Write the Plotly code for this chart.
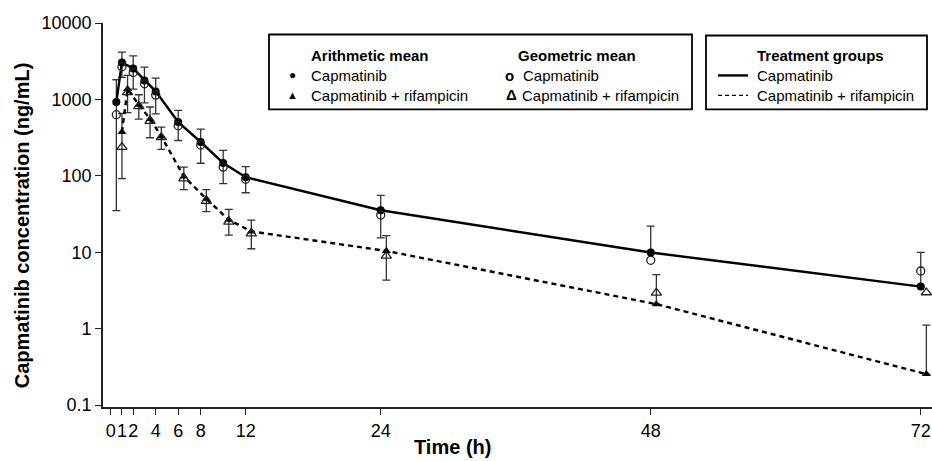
import plotly.graph_objects as go
import numpy as np

# ---------------- data ----------------
time_h = [0.5, 1, 2, 3, 4, 6, 8, 10, 12, 24, 48, 72]
rif_offset_h = 0.5  # horizontal dodge used for the rifampicin group

cap_arith_mean = [922, 3050, 2540, 1772, 1273, 505, 277, 147, 96, 35.4, 9.9, 3.55]
cap_arith_sd = [887, 1108, 1180, 870, 625, 215, 131, 68, 36, 20, 12, 6.4]
cap_geo_mean = [631, 2675, 2254, 1603, 1138, 453, 253, 130, 90, 30.7, 7.83, 5.68]

rif_arith_mean = [374, 1365, 851, 555, 328, 98, 50, 26.5, 18.7, 10.4, 2.09, 0.254]
rif_arith_sd = [282, 695, 300, 240, 106, 32, 16, 9.8, 7.6, 6.1, 3.0, 0.86]
rif_geo_mean = [238, 1236, 809, 521, 318, 91.9, 46.5, 24.9, 17.5, 8.96, 2.94, 2.97]

x_ticks = [0, 1, 2, 4, 6, 8, 12, 24, 48, 72]
y_ticks = [0.1, 1, 10, 100, 1000, 10000]
y_tick_text = ["0.1", "1", "10", "100", "1000", "10000"]

FONT = "Arial, Liberation Sans, sans-serif"
NARROW = "Liberation Sans Narrow, Arial Narrow, Arial, Liberation Sans, sans-serif"

# ---------------- figure ----------------
t_cap = np.array(time_h, dtype=float)
t_rif = t_cap + rif_offset_h


def lower(mean, sd):
    m = np.array(mean, float)
    s = np.array(sd, float)
    return np.where(m - s > 0, s, 0.0)


fig = go.Figure()

err_style = dict(type="data", symmetric=False, thickness=1.3, width=4, color="#333333")

fig.add_trace(go.Scatter(
    x=t_cap, y=cap_arith_mean, mode="lines+markers",
    line=dict(color="black", width=2.4),
    marker=dict(symbol="circle", size=8, color="black"),
    error_y=dict(array=cap_arith_sd, arrayminus=lower(cap_arith_mean, cap_arith_sd), **err_style),
    showlegend=False, cliponaxis=False))

fig.add_trace(go.Scatter(
    x=t_rif, y=rif_arith_mean, mode="lines+markers",
    line=dict(color="black", width=2.4, dash="5px,4px"),
    marker=dict(symbol="triangle-up", size=8, color="black"),
    error_y=dict(array=rif_arith_sd, arrayminus=lower(rif_arith_mean, rif_arith_sd), **err_style),
    showlegend=False, cliponaxis=False))

fig.add_trace(go.Scatter(
    x=t_cap, y=cap_geo_mean, mode="markers",
    marker=dict(symbol="circle-open", size=8, color="#222222", line=dict(width=1.3)),
    showlegend=False, cliponaxis=False))

fig.add_trace(go.Scatter(
    x=t_rif, y=rif_geo_mean, mode="markers",
    marker=dict(symbol="triangle-up-open", size=9, color="#222222", line=dict(width=1.3)),
    showlegend=False, cliponaxis=False))

# ---------------- layout in window pixels ----------------
FW, FH = 932, 461
L, R, T, B = 103, 932, 22.5, 407
W, H = R - L, B - T


def px(x):
    return (x - L) / W


def py(y):
    return (B - y) / H


shapes = []
for x0, x1, y0, y1 in [(269, 692, 34, 109), (706, 927, 35, 109)]:
    shapes.append(dict(type="rect", xref="paper", yref="paper",
                       x0=px(x0), x1=px(x1), y0=py(y1), y1=py(y0),
                       line=dict(color="black", width=1.8)))
shapes.append(dict(type="line", xref="paper", yref="paper", x0=px(718), x1=px(748),
                   y0=py(75), y1=py(75), line=dict(color="black", width=2.4)))
shapes.append(dict(type="line", xref="paper", yref="paper", x0=px(718), x1=px(748),
                   y0=py(95), y1=py(95), line=dict(color="black", width=1.3, dash="4px,3px")))

ann = []


def text(x, y, s, size=15, anchor="left"):
    ann.append(dict(xref="paper", yref="paper", x=px(x), y=py(y), text=s,
                    showarrow=False, xanchor=anchor, yanchor="middle",
                    font=dict(family=FONT, size=size, color="black")))


text(309, 55, "<b>Arithmetic mean</b>")
text(292, 75, "●", size=12, anchor="center")
text(309, 75, "Capmatinib")
text(292, 95, "▲", size=11, anchor="center")
text(309, 95, "Capmatinib + rifampicin")

text(516, 55, "<b>Geometric mean</b>")
text(509, 75, "<b>o</b>", size=15, anchor="center")
text(521, 75, "Capmatinib")
text(511, 94, "<b>Δ</b>", size=15, anchor="center")
text(520, 95, "Capmatinib + rifampicin")

text(755, 55, "<b>Treatment groups</b>")
text(755, 75, "Capmatinib")
text(755, 95, "Capmatinib + rifampicin")

# axis titles
ann.append(dict(xref="paper", yref="paper", x=px(22), y=py(447), text="<b>Time (h)</b>",
                showarrow=False, xanchor="center", yanchor="middle",
                font=dict(family=NARROW, size=20, color="black")) if False else
           dict(xref="paper", yref="paper", x=px(452), y=py(447), text="<b>Time (h)</b>",
                showarrow=False, xanchor="center", yanchor="middle",
                font=dict(family=NARROW, size=20, color="black")))
ann.append(dict(xref="paper", yref="paper", x=px(22), y=py(225),
                text="<b>Capmatinib concentration (ng/mL)</b>", textangle=-90,
                showarrow=False, xanchor="center", yanchor="middle",
                font=dict(family=FONT, size=20, color="black")))

fig.update_layout(
    width=FW, height=FH,
    margin=dict(l=L, r=FW - R, t=T, b=FH - B, pad=0),
    paper_bgcolor="white", plot_bgcolor="white",
    shapes=shapes, annotations=ann,
    font=dict(family=FONT, color="black"),
    xaxis=dict(range=[-0.684, 73.0], tickvals=x_ticks, ticktext=[str(v) for v in x_ticks],
               tickangle=0,
               ticks="outside", ticklen=6, tickwidth=1.3, tickcolor="#222",
               showline=True, linecolor="#222", linewidth=1.8,
               showgrid=False, zeroline=False,
               tickfont=dict(family=NARROW, size=18, color="black")),
    yaxis=dict(type="log", range=[-1.026, 4.0], tickvals=y_ticks, ticktext=y_tick_text,
               ticks="outside", ticklen=6, tickwidth=1.3, tickcolor="#222",
               showline=True, linecolor="#222", linewidth=1.8,
               showgrid=False, zeroline=False,
               tickfont=dict(family=FONT, size=18, color="black")),
)

fig.write_html(
    "out.html",
    config={"displayModeBar": False},
    post_script="document.body.style.margin='0px';document.body.style.overflow='hidden';",
)
